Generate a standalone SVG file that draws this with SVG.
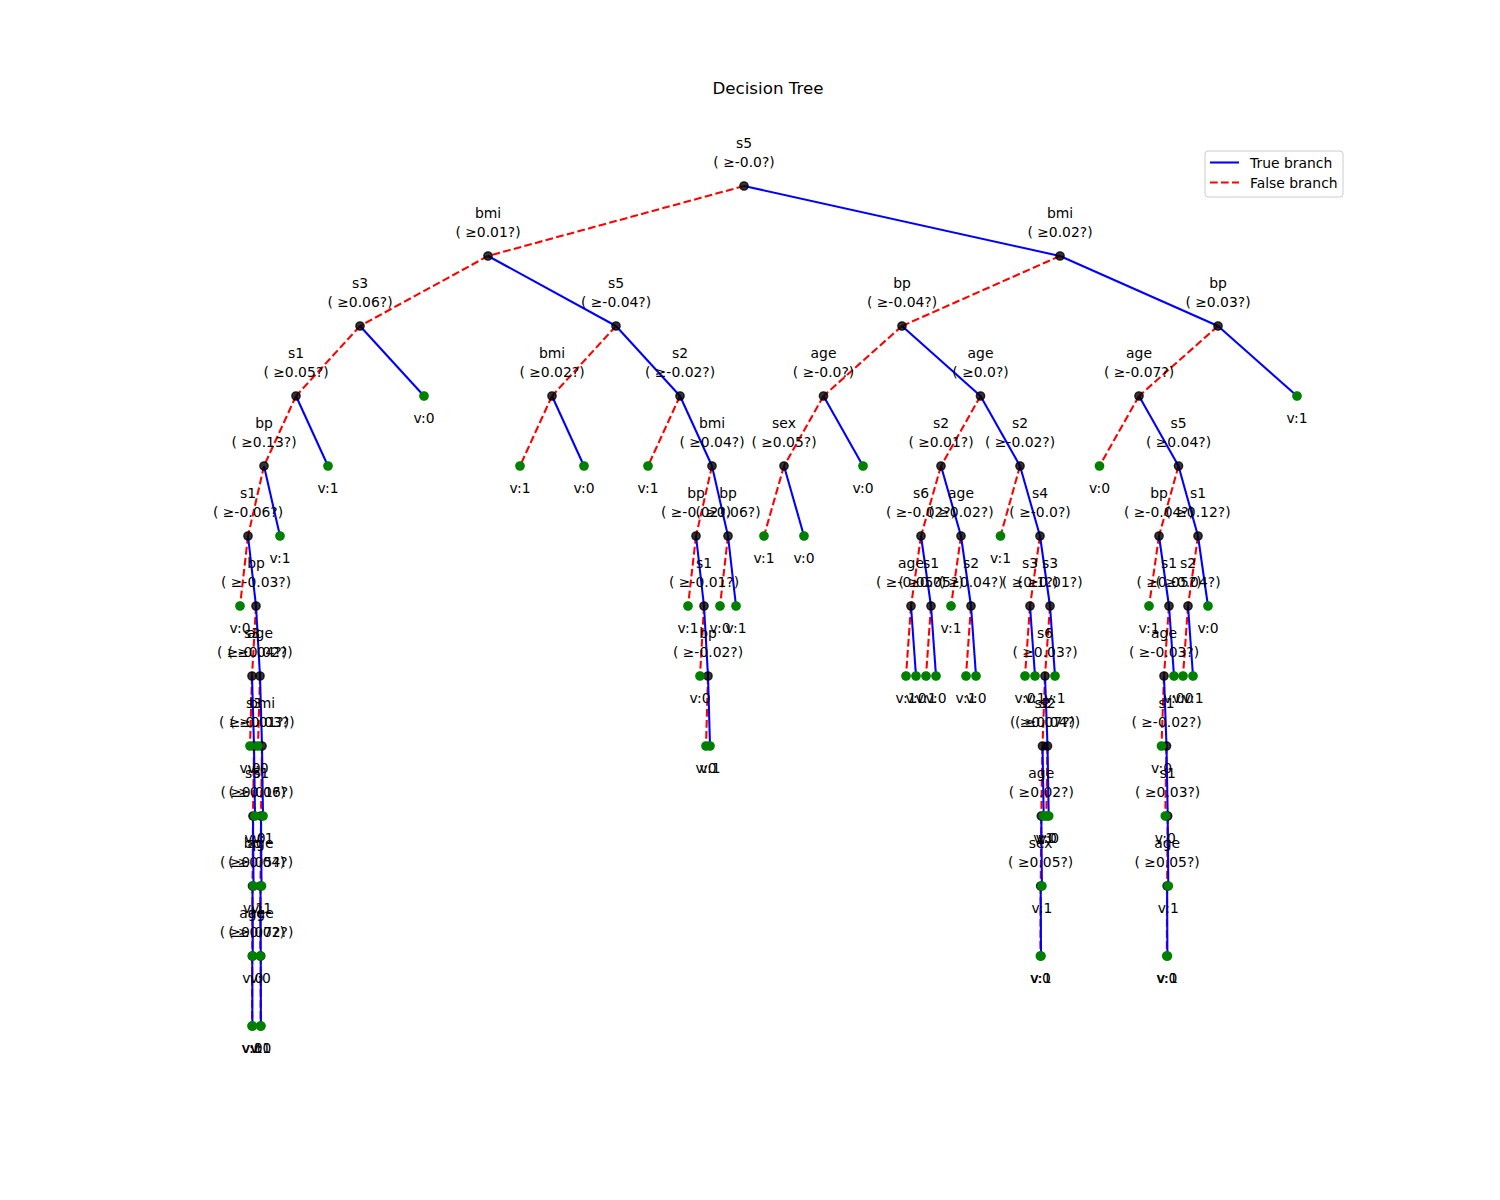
<svg xmlns="http://www.w3.org/2000/svg" width="1500" height="1200" viewBox="0 0 1500 1200">
<style>
text{font-family:"DejaVu Sans","Liberation Sans",sans-serif;font-size:13.9px;text-anchor:middle;fill:#000}
.title{font-size:16.7px}
.T{stroke:#0000ff;stroke-width:2.08;fill:none}
.F{stroke:#ff0000;stroke-width:2.08;stroke-dasharray:7.7 3.3;fill:none}
.in{fill:#000;fill-opacity:.8;stroke:#000;stroke-opacity:.8;stroke-width:1.39}
.lf{fill:#008000;stroke:#008000;stroke-width:1.39}
.lg{text-anchor:start}
</style>
<rect width="1500" height="1200" fill="#fff"/>
<text class="title" x="768" y="94">Decision Tree</text>
<g id="connectors">
<line class="F" x1="744" y1="186" x2="488" y2="256"/><line class="T" x1="744" y1="186" x2="1060" y2="256"/>
<line class="F" x1="488" y1="256" x2="360" y2="326"/><line class="T" x1="488" y1="256" x2="616" y2="326"/>
<line class="F" x1="1060" y1="256" x2="902" y2="326"/><line class="T" x1="1060" y1="256" x2="1218" y2="326"/>
<line class="F" x1="360" y1="326" x2="296" y2="396"/><line class="T" x1="360" y1="326" x2="424" y2="396"/>
<line class="F" x1="616" y1="326" x2="552" y2="396"/><line class="T" x1="616" y1="326" x2="680" y2="396"/>
<line class="F" x1="902" y1="326" x2="823.5" y2="396"/><line class="T" x1="902" y1="326" x2="980.5" y2="396"/>
<line class="F" x1="1218" y1="326" x2="1139" y2="396"/><line class="T" x1="1218" y1="326" x2="1297" y2="396"/>
<line class="F" x1="296" y1="396" x2="264" y2="466"/><line class="T" x1="296" y1="396" x2="328" y2="466"/>
<line class="F" x1="552" y1="396" x2="520" y2="466"/><line class="T" x1="552" y1="396" x2="584" y2="466"/>
<line class="F" x1="680" y1="396" x2="648" y2="466"/><line class="T" x1="680" y1="396" x2="712" y2="466"/>
<line class="F" x1="823.5" y1="396" x2="784" y2="466"/><line class="T" x1="823.5" y1="396" x2="863" y2="466"/>
<line class="F" x1="980.5" y1="396" x2="941" y2="466"/><line class="T" x1="980.5" y1="396" x2="1020" y2="466"/>
<line class="F" x1="1139" y1="396" x2="1099.5" y2="466"/><line class="T" x1="1139" y1="396" x2="1178.5" y2="466"/>
<line class="F" x1="264" y1="466" x2="248" y2="536"/><line class="T" x1="264" y1="466" x2="280" y2="536"/>
<line class="F" x1="712" y1="466" x2="696" y2="536"/><line class="T" x1="712" y1="466" x2="728" y2="536"/>
<line class="F" x1="784" y1="466" x2="764" y2="536"/><line class="T" x1="784" y1="466" x2="804" y2="536"/>
<line class="F" x1="941" y1="466" x2="921" y2="536"/><line class="T" x1="941" y1="466" x2="961" y2="536"/>
<line class="F" x1="1020" y1="466" x2="1000.5" y2="536"/><line class="T" x1="1020" y1="466" x2="1040" y2="536"/>
<line class="F" x1="1178.5" y1="466" x2="1159" y2="536"/><line class="T" x1="1178.5" y1="466" x2="1198" y2="536"/>
<line class="F" x1="248" y1="536" x2="240" y2="606"/><line class="T" x1="248" y1="536" x2="256" y2="606"/>
<line class="F" x1="696" y1="536" x2="688" y2="606"/><line class="T" x1="696" y1="536" x2="704" y2="606"/>
<line class="F" x1="728" y1="536" x2="720" y2="606"/><line class="T" x1="728" y1="536" x2="736" y2="606"/>
<line class="F" x1="921" y1="536" x2="911" y2="606"/><line class="T" x1="921" y1="536" x2="931" y2="606"/>
<line class="F" x1="961" y1="536" x2="951" y2="606"/><line class="T" x1="961" y1="536" x2="971" y2="606"/>
<line class="F" x1="1040" y1="536" x2="1030" y2="606"/><line class="T" x1="1040" y1="536" x2="1050" y2="606"/>
<line class="F" x1="1159" y1="536" x2="1149" y2="606"/><line class="T" x1="1159" y1="536" x2="1169" y2="606"/>
<line class="F" x1="1198" y1="536" x2="1188" y2="606"/><line class="T" x1="1198" y1="536" x2="1208" y2="606"/>
<line class="F" x1="256" y1="606" x2="252" y2="676"/><line class="T" x1="256" y1="606" x2="260" y2="676"/>
<line class="F" x1="704" y1="606" x2="700" y2="676"/><line class="T" x1="704" y1="606" x2="708" y2="676"/>
<line class="F" x1="911" y1="606" x2="906" y2="676"/><line class="T" x1="911" y1="606" x2="916" y2="676"/>
<line class="F" x1="931" y1="606" x2="926" y2="676"/><line class="T" x1="931" y1="606" x2="936" y2="676"/>
<line class="F" x1="971" y1="606" x2="966" y2="676"/><line class="T" x1="971" y1="606" x2="976" y2="676"/>
<line class="F" x1="1030" y1="606" x2="1025" y2="676"/><line class="T" x1="1030" y1="606" x2="1035" y2="676"/>
<line class="F" x1="1050" y1="606" x2="1045" y2="676"/><line class="T" x1="1050" y1="606" x2="1055" y2="676"/>
<line class="F" x1="1169" y1="606" x2="1164" y2="676"/><line class="T" x1="1169" y1="606" x2="1174" y2="676"/>
<line class="F" x1="1188" y1="606" x2="1183" y2="676"/><line class="T" x1="1188" y1="606" x2="1193" y2="676"/>
<line class="F" x1="252" y1="676" x2="250" y2="746"/><line class="T" x1="252" y1="676" x2="254" y2="746"/>
<line class="F" x1="260" y1="676" x2="258" y2="746"/><line class="T" x1="260" y1="676" x2="262" y2="746"/>
<line class="F" x1="708" y1="676" x2="706" y2="746"/><line class="T" x1="708" y1="676" x2="710" y2="746"/>
<line class="F" x1="1045" y1="676" x2="1042.5" y2="746"/><line class="T" x1="1045" y1="676" x2="1047.5" y2="746"/>
<line class="F" x1="1164" y1="676" x2="1161.5" y2="746"/><line class="T" x1="1164" y1="676" x2="1166.5" y2="746"/>
<line class="F" x1="254" y1="746" x2="253" y2="816"/><line class="T" x1="254" y1="746" x2="255" y2="816"/>
<line class="F" x1="262" y1="746" x2="261" y2="816"/><line class="T" x1="262" y1="746" x2="263" y2="816"/>
<line class="F" x1="1042.5" y1="746" x2="1041.3" y2="816"/><line class="T" x1="1042.5" y1="746" x2="1043.7" y2="816"/>
<line class="F" x1="1047.5" y1="746" x2="1046.3" y2="816"/><line class="T" x1="1047.5" y1="746" x2="1048.7" y2="816"/>
<line class="F" x1="1166.5" y1="746" x2="1165.3" y2="816"/><line class="T" x1="1166.5" y1="746" x2="1167.7" y2="816"/>
<line class="F" x1="253" y1="816" x2="252.5" y2="886"/><line class="T" x1="253" y1="816" x2="253.5" y2="886"/>
<line class="F" x1="261" y1="816" x2="260.5" y2="886"/><line class="T" x1="261" y1="816" x2="261.5" y2="886"/>
<line class="F" x1="1041.3" y1="816" x2="1040.7" y2="886"/><line class="T" x1="1041.3" y1="816" x2="1041.9" y2="886"/>
<line class="F" x1="1167.7" y1="816" x2="1167.1" y2="886"/><line class="T" x1="1167.7" y1="816" x2="1168.3" y2="886"/>
<line class="F" x1="252.5" y1="886" x2="252.25" y2="956"/><line class="T" x1="252.5" y1="886" x2="252.75" y2="956"/>
<line class="F" x1="260.5" y1="886" x2="260.25" y2="956"/><line class="T" x1="260.5" y1="886" x2="260.75" y2="956"/>
<line class="F" x1="1040.7" y1="886" x2="1040.4" y2="956"/><line class="T" x1="1040.7" y1="886" x2="1041" y2="956"/>
<line class="F" x1="1167.1" y1="886" x2="1166.8" y2="956"/><line class="T" x1="1167.1" y1="886" x2="1167.4" y2="956"/>
<line class="F" x1="252.25" y1="956" x2="252.1" y2="1026"/><line class="T" x1="252.25" y1="956" x2="252.4" y2="1026"/>
<line class="F" x1="260.75" y1="956" x2="260.6" y2="1026"/><line class="T" x1="260.75" y1="956" x2="260.9" y2="1026"/>
</g>
<g id="nodes">
<g id="n0"><circle class="in" cx="744" cy="186" r="4.17"/><text x="744" y="148">s5</text><text x="744" y="166.5">( ≥-0.0?)</text></g>
<g id="n1"><circle class="in" cx="488" cy="256" r="4.17"/><text x="488" y="218">bmi</text><text x="488" y="236.5">( ≥0.01?)</text></g>
<g id="n2"><circle class="in" cx="1060" cy="256" r="4.17"/><text x="1060" y="218">bmi</text><text x="1060" y="236.5">( ≥0.02?)</text></g>
<g id="n3"><circle class="in" cx="360" cy="326" r="4.17"/><text x="360" y="288">s3</text><text x="360" y="306.5">( ≥0.06?)</text></g>
<g id="n4"><circle class="in" cx="616" cy="326" r="4.17"/><text x="616" y="288">s5</text><text x="616" y="306.5">( ≥-0.04?)</text></g>
<g id="n5"><circle class="in" cx="902" cy="326" r="4.17"/><text x="902" y="288">bp</text><text x="902" y="306.5">( ≥-0.04?)</text></g>
<g id="n6"><circle class="in" cx="1218" cy="326" r="4.17"/><text x="1218" y="288">bp</text><text x="1218" y="306.5">( ≥0.03?)</text></g>
<g id="n7"><circle class="in" cx="296" cy="396" r="4.17"/><text x="296" y="358">s1</text><text x="296" y="376.5">( ≥0.05?)</text></g>
<g id="n8"><circle class="in" cx="552" cy="396" r="4.17"/><text x="552" y="358">bmi</text><text x="552" y="376.5">( ≥0.02?)</text></g>
<g id="n9"><circle class="in" cx="680" cy="396" r="4.17"/><text x="680" y="358">s2</text><text x="680" y="376.5">( ≥-0.02?)</text></g>
<g id="n10"><circle class="in" cx="823.5" cy="396" r="4.17"/><text x="823.5" y="358">age</text><text x="823.5" y="376.5">( ≥-0.0?)</text></g>
<g id="n11"><circle class="in" cx="980.5" cy="396" r="4.17"/><text x="980.5" y="358">age</text><text x="980.5" y="376.5">( ≥0.0?)</text></g>
<g id="n12"><circle class="in" cx="1139" cy="396" r="4.17"/><text x="1139" y="358">age</text><text x="1139" y="376.5">( ≥-0.07?)</text></g>
<g id="n13"><circle class="in" cx="264" cy="466" r="4.17"/><text x="264" y="428">bp</text><text x="264" y="446.5">( ≥0.13?)</text></g>
<g id="n14"><circle class="in" cx="712" cy="466" r="4.17"/><text x="712" y="428">bmi</text><text x="712" y="446.5">( ≥0.04?)</text></g>
<g id="n15"><circle class="in" cx="784" cy="466" r="4.17"/><text x="784" y="428">sex</text><text x="784" y="446.5">( ≥0.05?)</text></g>
<g id="n16"><circle class="in" cx="941" cy="466" r="4.17"/><text x="941" y="428">s2</text><text x="941" y="446.5">( ≥0.01?)</text></g>
<g id="n17"><circle class="in" cx="1020" cy="466" r="4.17"/><text x="1020" y="428">s2</text><text x="1020" y="446.5">( ≥-0.02?)</text></g>
<g id="n18"><circle class="in" cx="1178.5" cy="466" r="4.17"/><text x="1178.5" y="428">s5</text><text x="1178.5" y="446.5">( ≥0.04?)</text></g>
<g id="n19"><circle class="in" cx="248" cy="536" r="4.17"/><text x="248" y="498">s1</text><text x="248" y="516.5">( ≥-0.06?)</text></g>
<g id="n20"><circle class="in" cx="696" cy="536" r="4.17"/><text x="696" y="498">bp</text><text x="696" y="516.5">( ≥-0.02?)</text></g>
<g id="n21"><circle class="in" cx="728" cy="536" r="4.17"/><text x="728" y="498">bp</text><text x="728" y="516.5">( ≥0.06?)</text></g>
<g id="n22"><circle class="in" cx="921" cy="536" r="4.17"/><text x="921" y="498">s6</text><text x="921" y="516.5">( ≥-0.02?)</text></g>
<g id="n23"><circle class="in" cx="961" cy="536" r="4.17"/><text x="961" y="498">age</text><text x="961" y="516.5">( ≥0.02?)</text></g>
<g id="n24"><circle class="in" cx="1040" cy="536" r="4.17"/><text x="1040" y="498">s4</text><text x="1040" y="516.5">( ≥-0.0?)</text></g>
<g id="n25"><circle class="in" cx="1159" cy="536" r="4.17"/><text x="1159" y="498">bp</text><text x="1159" y="516.5">( ≥-0.04?)</text></g>
<g id="n26"><circle class="in" cx="1198" cy="536" r="4.17"/><text x="1198" y="498">s1</text><text x="1198" y="516.5">( ≥0.12?)</text></g>
<g id="n27"><circle class="in" cx="256" cy="606" r="4.17"/><text x="256" y="568">bp</text><text x="256" y="586.5">( ≥-0.03?)</text></g>
<g id="n28"><circle class="in" cx="704" cy="606" r="4.17"/><text x="704" y="568">s1</text><text x="704" y="586.5">( ≥-0.01?)</text></g>
<g id="n29"><circle class="in" cx="911" cy="606" r="4.17"/><text x="911" y="568">age</text><text x="911" y="586.5">( ≥-0.05?)</text></g>
<g id="n30"><circle class="in" cx="931" cy="606" r="4.17"/><text x="931" y="568">s1</text><text x="931" y="586.5">( ≥0.05?)</text></g>
<g id="n31"><circle class="in" cx="971" cy="606" r="4.17"/><text x="971" y="568">s2</text><text x="971" y="586.5">( ≥0.04?)</text></g>
<g id="n32"><circle class="in" cx="1030" cy="606" r="4.17"/><text x="1030" y="568">s3</text><text x="1030" y="586.5">( ≥0.1?)</text></g>
<g id="n33"><circle class="in" cx="1050" cy="606" r="4.17"/><text x="1050" y="568">s3</text><text x="1050" y="586.5">( ≥0.01?)</text></g>
<g id="n34"><circle class="in" cx="1169" cy="606" r="4.17"/><text x="1169" y="568">s1</text><text x="1169" y="586.5">( ≥0.05?)</text></g>
<g id="n35"><circle class="in" cx="1188" cy="606" r="4.17"/><text x="1188" y="568">s2</text><text x="1188" y="586.5">( ≥0.04?)</text></g>
<g id="n36"><circle class="in" cx="252" cy="676" r="4.17"/><text x="252" y="638">s3</text><text x="252" y="656.5">( ≥-0.04?)</text></g>
<g id="n37"><circle class="in" cx="260" cy="676" r="4.17"/><text x="260" y="638">age</text><text x="260" y="656.5">( ≥0.02?)</text></g>
<g id="n38"><circle class="in" cx="708" cy="676" r="4.17"/><text x="708" y="638">bp</text><text x="708" y="656.5">( ≥-0.02?)</text></g>
<g id="n39"><circle class="in" cx="1045" cy="676" r="4.17"/><text x="1045" y="638">s6</text><text x="1045" y="656.5">( ≥0.03?)</text></g>
<g id="n40"><circle class="in" cx="1164" cy="676" r="4.17"/><text x="1164" y="638">age</text><text x="1164" y="656.5">( ≥-0.03?)</text></g>
<g id="n41"><circle class="in" cx="254" cy="746" r="4.17"/><text x="254" y="708">s3</text><text x="254" y="726.5">( ≥-0.01?)</text></g>
<g id="n42"><circle class="in" cx="262" cy="746" r="4.17"/><text x="262" y="708">bmi</text><text x="262" y="726.5">( ≥0.03?)</text></g>
<g id="n43"><circle class="in" cx="1042.5" cy="746" r="4.17"/><text x="1042.5" y="708">s2</text><text x="1042.5" y="726.5">( ≥0.07?)</text></g>
<g id="n44"><circle class="in" cx="1047.5" cy="746" r="4.17"/><text x="1047.5" y="708">s2</text><text x="1047.5" y="726.5">( ≥0.04?)</text></g>
<g id="n45"><circle class="in" cx="1166.5" cy="746" r="4.17"/><text x="1166.5" y="708">s1</text><text x="1166.5" y="726.5">( ≥-0.02?)</text></g>
<g id="n46"><circle class="in" cx="253" cy="816" r="4.17"/><text x="253" y="778">s5</text><text x="253" y="796.5">( ≥0.01?)</text></g>
<g id="n47"><circle class="in" cx="261" cy="816" r="4.17"/><text x="261" y="778">s1</text><text x="261" y="796.5">( ≥0.06?)</text></g>
<g id="n48"><circle class="in" cx="1041.3" cy="816" r="4.17"/><text x="1041.3" y="778">age</text><text x="1041.3" y="796.5">( ≥0.02?)</text></g>
<g id="n49"><circle class="in" cx="1167.7" cy="816" r="4.17"/><text x="1167.7" y="778">s1</text><text x="1167.7" y="796.5">( ≥0.03?)</text></g>
<g id="n50"><circle class="in" cx="252.5" cy="886" r="4.17"/><text x="252.5" y="848">bp</text><text x="252.5" y="866.5">( ≥0.05?)</text></g>
<g id="n51"><circle class="in" cx="260.5" cy="886" r="4.17"/><text x="260.5" y="848">age</text><text x="260.5" y="866.5">( ≥0.04?)</text></g>
<g id="n52"><circle class="in" cx="1040.7" cy="886" r="4.17"/><text x="1040.7" y="848">sex</text><text x="1040.7" y="866.5">( ≥0.05?)</text></g>
<g id="n53"><circle class="in" cx="1167.1" cy="886" r="4.17"/><text x="1167.1" y="848">age</text><text x="1167.1" y="866.5">( ≥0.05?)</text></g>
<g id="n54"><circle class="in" cx="252.25" cy="956" r="4.17"/><text x="252.25" y="918">age</text><text x="252.25" y="936.5">( ≥0.07?)</text></g>
<g id="n55"><circle class="in" cx="260.75" cy="956" r="4.17"/><text x="260.75" y="918">age</text><text x="260.75" y="936.5">( ≥0.02?)</text></g>
</g>
<g id="leaves">
<g id="l1"><circle class="lf" cx="424" cy="396" r="4.17"/><text x="424" y="423">v:0</text></g>
<g id="l2"><circle class="lf" cx="1297" cy="396" r="4.17"/><text x="1297" y="423">v:1</text></g>
<g id="l3"><circle class="lf" cx="328" cy="466" r="4.17"/><text x="328" y="493">v:1</text></g>
<g id="l4"><circle class="lf" cx="520" cy="466" r="4.17"/><text x="520" y="493">v:1</text></g>
<g id="l5"><circle class="lf" cx="584" cy="466" r="4.17"/><text x="584" y="493">v:0</text></g>
<g id="l6"><circle class="lf" cx="648" cy="466" r="4.17"/><text x="648" y="493">v:1</text></g>
<g id="l7"><circle class="lf" cx="863" cy="466" r="4.17"/><text x="863" y="493">v:0</text></g>
<g id="l8"><circle class="lf" cx="1099.5" cy="466" r="4.17"/><text x="1099.5" y="493">v:0</text></g>
<g id="l9"><circle class="lf" cx="280" cy="536" r="4.17"/><text x="280" y="563">v:1</text></g>
<g id="l10"><circle class="lf" cx="764" cy="536" r="4.17"/><text x="764" y="563">v:1</text></g>
<g id="l11"><circle class="lf" cx="804" cy="536" r="4.17"/><text x="804" y="563">v:0</text></g>
<g id="l12"><circle class="lf" cx="1000.5" cy="536" r="4.17"/><text x="1000.5" y="563">v:1</text></g>
<g id="l13"><circle class="lf" cx="240" cy="606" r="4.17"/><text x="240" y="633">v:0</text></g>
<g id="l14"><circle class="lf" cx="688" cy="606" r="4.17"/><text x="688" y="633">v:1</text></g>
<g id="l15"><circle class="lf" cx="720" cy="606" r="4.17"/><text x="720" y="633">v:0</text></g>
<g id="l16"><circle class="lf" cx="736" cy="606" r="4.17"/><text x="736" y="633">v:1</text></g>
<g id="l17"><circle class="lf" cx="951" cy="606" r="4.17"/><text x="951" y="633">v:1</text></g>
<g id="l18"><circle class="lf" cx="1149" cy="606" r="4.17"/><text x="1149" y="633">v:1</text></g>
<g id="l19"><circle class="lf" cx="1208" cy="606" r="4.17"/><text x="1208" y="633">v:0</text></g>
<g id="l20"><circle class="lf" cx="700" cy="676" r="4.17"/><text x="700" y="703">v:0</text></g>
<g id="l21"><circle class="lf" cx="906" cy="676" r="4.17"/><text x="906" y="703">v:1</text></g>
<g id="l22"><circle class="lf" cx="916" cy="676" r="4.17"/><text x="916" y="703">v:0</text></g>
<g id="l23"><circle class="lf" cx="926" cy="676" r="4.17"/><text x="926" y="703">v:1</text></g>
<g id="l24"><circle class="lf" cx="936" cy="676" r="4.17"/><text x="936" y="703">v:0</text></g>
<g id="l25"><circle class="lf" cx="966" cy="676" r="4.17"/><text x="966" y="703">v:1</text></g>
<g id="l26"><circle class="lf" cx="976" cy="676" r="4.17"/><text x="976" y="703">v:0</text></g>
<g id="l27"><circle class="lf" cx="1025" cy="676" r="4.17"/><text x="1025" y="703">v:0</text></g>
<g id="l28"><circle class="lf" cx="1035" cy="676" r="4.17"/><text x="1035" y="703">v:1</text></g>
<g id="l29"><circle class="lf" cx="1055" cy="676" r="4.17"/><text x="1055" y="703">v:1</text></g>
<g id="l30"><circle class="lf" cx="1174" cy="676" r="4.17"/><text x="1174" y="703">v:0</text></g>
<g id="l31"><circle class="lf" cx="1183" cy="676" r="4.17"/><text x="1183" y="703">v:0</text></g>
<g id="l32"><circle class="lf" cx="1193" cy="676" r="4.17"/><text x="1193" y="703">v:1</text></g>
<g id="l33"><circle class="lf" cx="250" cy="746" r="4.17"/><text x="250" y="773">v:0</text></g>
<g id="l34"><circle class="lf" cx="258" cy="746" r="4.17"/><text x="258" y="773">v:0</text></g>
<g id="l35"><circle class="lf" cx="706" cy="746" r="4.17"/><text x="706" y="773">v:0</text></g>
<g id="l36"><circle class="lf" cx="710" cy="746" r="4.17"/><text x="710" y="773">v:1</text></g>
<g id="l37"><circle class="lf" cx="1161.5" cy="746" r="4.17"/><text x="1161.5" y="773">v:0</text></g>
<g id="l38"><circle class="lf" cx="255" cy="816" r="4.17"/><text x="255" y="843">v:0</text></g>
<g id="l39"><circle class="lf" cx="263" cy="816" r="4.17"/><text x="263" y="843">v:1</text></g>
<g id="l40"><circle class="lf" cx="1043.7" cy="816" r="4.17"/><text x="1043.7" y="843">v:1</text></g>
<g id="l41"><circle class="lf" cx="1046.3" cy="816" r="4.17"/><text x="1046.3" y="843">v:0</text></g>
<g id="l42"><circle class="lf" cx="1048.7" cy="816" r="4.17"/><text x="1048.7" y="843">v:0</text></g>
<g id="l43"><circle class="lf" cx="1165.3" cy="816" r="4.17"/><text x="1165.3" y="843">v:0</text></g>
<g id="l44"><circle class="lf" cx="253.5" cy="886" r="4.17"/><text x="253.5" y="913">v:1</text></g>
<g id="l45"><circle class="lf" cx="261.5" cy="886" r="4.17"/><text x="261.5" y="913">v:1</text></g>
<g id="l46"><circle class="lf" cx="1041.9" cy="886" r="4.17"/><text x="1041.9" y="913">v:1</text></g>
<g id="l47"><circle class="lf" cx="1168.3" cy="886" r="4.17"/><text x="1168.3" y="913">v:1</text></g>
<g id="l48"><circle class="lf" cx="252.75" cy="956" r="4.17"/><text x="252.75" y="983">v:0</text></g>
<g id="l49"><circle class="lf" cx="260.25" cy="956" r="4.17"/><text x="260.25" y="983">v:0</text></g>
<g id="l50"><circle class="lf" cx="1040.4" cy="956" r="4.17"/><text x="1040.4" y="983">v:0</text></g>
<g id="l51"><circle class="lf" cx="1041" cy="956" r="4.17"/><text x="1041" y="983">v:1</text></g>
<g id="l52"><circle class="lf" cx="1166.8" cy="956" r="4.17"/><text x="1166.8" y="983">v:0</text></g>
<g id="l53"><circle class="lf" cx="1167.4" cy="956" r="4.17"/><text x="1167.4" y="983">v:1</text></g>
<g id="l54"><circle class="lf" cx="252.1" cy="1026" r="4.17"/><text x="252.1" y="1053">v:0</text></g>
<g id="l55"><circle class="lf" cx="252.4" cy="1026" r="4.17"/><text x="252.4" y="1053">v:1</text></g>
<g id="l56"><circle class="lf" cx="260.6" cy="1026" r="4.17"/><text x="260.6" y="1053">v:1</text></g>
<g id="l57"><circle class="lf" cx="260.9" cy="1026" r="4.17"/><text x="260.9" y="1053">v:0</text></g>
</g>
<g id="legend">
<rect x="1205" y="151" width="138" height="46" rx="3" fill="#fff" fill-opacity=".8" stroke="#cccccc" stroke-width="1"/>
<line class="T" x1="1210" y1="162.5" x2="1239" y2="162.5"/>
<text class="lg" x="1250" y="167.5">True branch</text>
<line class="F" x1="1210" y1="182.5" x2="1239" y2="182.5"/>
<text class="lg" x="1250" y="187.5">False branch</text>
</g>
</svg>
